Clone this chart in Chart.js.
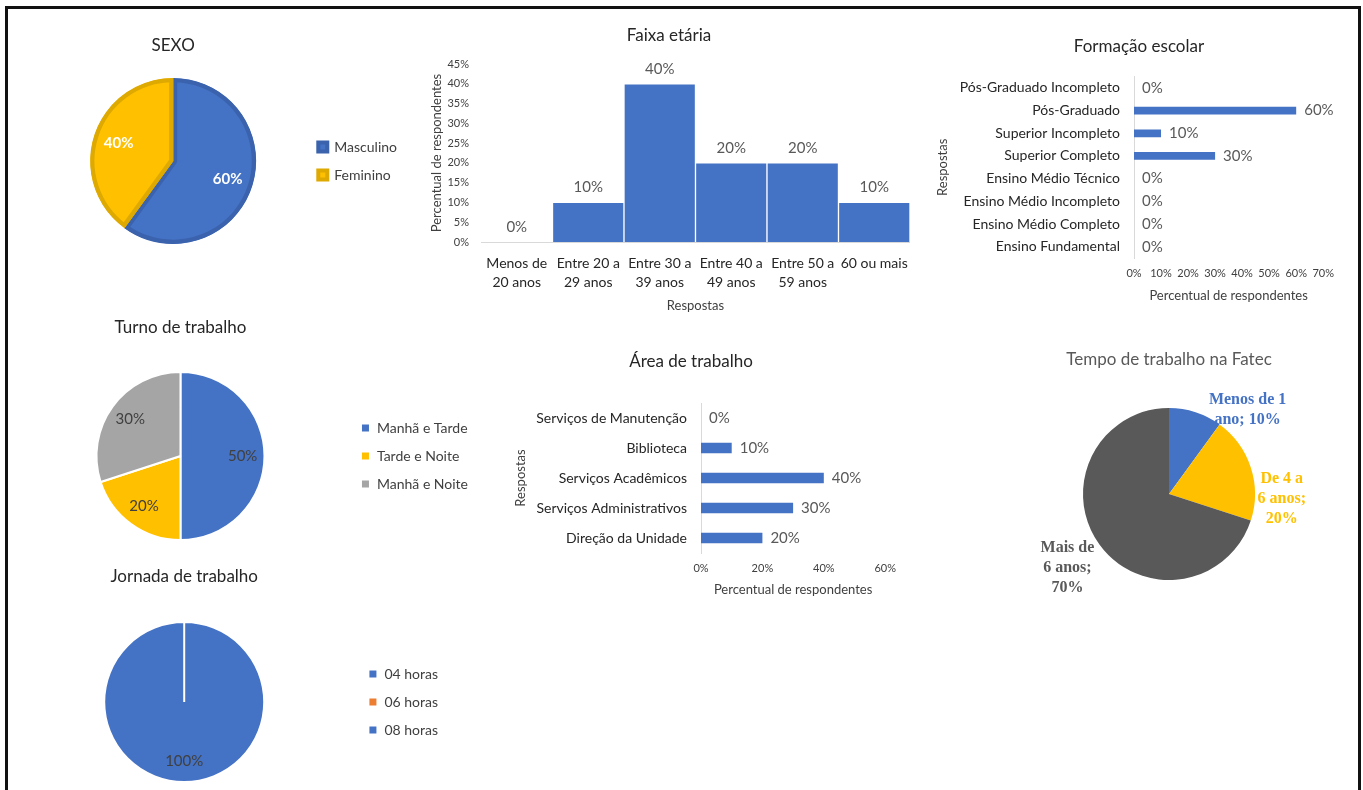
<!DOCTYPE html>
<html lang="pt-BR">
<head>
<meta charset="utf-8">
<title>Perfil dos respondentes</title>
<script src="https://cdn.jsdelivr.net/npm/chart.js@4.4.1/dist/chart.umd.min.js"></script>
<style>
  html, body { margin: 0; padding: 0; background: #fff; }
  #painel { position: relative; width: 1363px; height: 790px; overflow: hidden; }
  #moldura { position: absolute; left: 5px; top: 6px; width: 1356px; height: 820px;
             box-sizing: border-box; border: 3px solid #111; border-bottom: none; }
  canvas { position: absolute; }
</style>
</head>
<body>
<div id="painel">
  <div id="moldura"></div>
  <canvas id="sexoChart" width="365" height="236" style="left:42px;top:20px"></canvas>
  <canvas id="faixaChart" width="499" height="296" style="left:421px;top:20px"></canvas>
  <canvas id="formacaoChart" width="408" height="282" style="left:935px;top:25px"></canvas>
  <canvas id="turnoChart" width="464" height="245" style="left:14px;top:311px"></canvas>
  <canvas id="areaChart" width="428" height="261" style="left:477px;top:340px"></canvas>
  <canvas id="tempoChart" width="320" height="268" style="left:1009px;top:340px"></canvas>
  <canvas id="jornadaChart" width="434" height="222" style="left:14px;top:562px"></canvas>
</div>
<script>
// Dados de cada gráfico (percentual de respondentes)
const sexoCategorias = ['Masculino', 'Feminino'];
const sexoValores = [60, 40];

const faixaCategorias = [['Menos de', '20 anos'], ['Entre 20 a', '29 anos'], ['Entre 30 a', '39 anos'],
                         ['Entre 40 a', '49 anos'], ['Entre 50 a', '59 anos'], '60 ou mais'];
const faixaValores = [0, 10, 40, 20, 20, 10];
const faixaEixo = { max: 45, passo: 5 };

const formacaoCategorias = ['Pós-Graduado Incompleto', 'Pós-Graduado', 'Superior Incompleto', 'Superior Completo',
                            'Ensino Médio Técnico', 'Ensino Médio Incompleto', 'Ensino Médio Completo', 'Ensino Fundamental'];
const formacaoValores = [0, 60, 10, 30, 0, 0, 0, 0];
const formacaoEixo = { max: 70, passo: 10 };

const turnoCategorias = ['Manhã e Tarde', 'Tarde e Noite', 'Manhã e Noite'];
const turnoValores = [50, 20, 30];

const areaCategorias = ['Serviços de Manutenção', 'Biblioteca', 'Serviços Acadêmicos',
                        'Serviços Administrativos', 'Direção da Unidade'];
const areaValores = [0, 10, 40, 30, 20];
const areaEixo = { max: 60, passo: 20 };

const tempoCategorias = ['Menos de 1 ano', 'De 4 a 6 anos', 'Mais de 6 anos'];
const tempoValores = [10, 20, 70];

const jornadaCategorias = ['04 horas', '06 horas', '08 horas'];
const jornadaValores = [0, 0, 100];

// Cores no estilo do Excel
const AZUL = '#4472C4';
const AMARELO = '#FFC000';
const CINZA = '#A5A5A5';
const LARANJA = '#ED7D31';
const GRAFITE = '#595959';

Chart.defaults.font.family = 'Lato, "Open Sans", sans-serif';
Chart.defaults.color = '#595959';
Chart.defaults.animation = false;
Chart.defaults.responsive = false;
Chart.defaults.plugins.tooltip.enabled = false;

// quebra um rótulo em linhas que caibam na largura pedida
function quebrarTexto(ctx, texto, largura) {
    const palavras = texto.split(' ');
    const linhas = [];
    let atual = '';
    palavras.forEach(p => {
        const teste = atual ? atual + ' ' + p : p;
        if (atual && ctx.measureText(teste).width > largura) {
            linhas.push(atual);
            atual = p;
        } else {
            atual = teste;
        }
    });
    linhas.push(atual);
    return linhas;
}

// Plugin simples para os rótulos de dados (não há chartjs-plugin-datalabels)
const rotulosPlugin = {
    id: 'rotulos',
    afterDatasetsDraw(chart, args, opts) {
        if (!opts.modo) return;
        const ctx = chart.ctx;
        const meta = chart.getDatasetMeta(0);
        const ds = chart.data.datasets[0];
        ctx.save();
        ctx.font = opts.fonte;
        ctx.fillStyle = opts.cor;
        ctx.textBaseline = 'middle';
        meta.data.forEach((el, i) => {
            const v = ds.data[i];
            const txt = v + '%';
            if (opts.modo === 'topo') {
                ctx.textAlign = 'center';
                ctx.fillText(txt, el.x, el.y - opts.distancia);
            } else if (opts.modo === 'direita') {
                ctx.textAlign = 'left';
                ctx.fillText(txt, el.x + opts.distancia, el.y);
            } else if (opts.modo === 'fatia') {
                if (v === 0) return;
                const meio = (el.startAngle + el.endAngle) / 2;
                const r = el.outerRadius * opts.raio;
                ctx.textAlign = 'center';
                ctx.fillText(txt, el.x + Math.cos(meio) * r, el.y + Math.sin(meio) * r);
            } else if (opts.modo === 'externo') {
                const meio = (el.startAngle + el.endAngle) / 2;
                const bx = el.x + Math.cos(meio) * el.outerRadius + opts.deslocamentos[i][0];
                const by = el.y + Math.sin(meio) * el.outerRadius + opts.deslocamentos[i][1];
                const linhas = quebrarTexto(ctx, chart.data.labels[i] + '; ' + txt, opts.larguras[i]);
                ctx.fillStyle = ds.backgroundColor[i];
                ctx.textAlign = 'center';
                linhas.forEach((l, k) => {
                    ctx.fillText(l, bx, by + (k - (linhas.length - 1) / 2) * opts.entrelinha);
                });
            }
        });
        ctx.restore();
    }
};
Chart.register(rotulosPlugin);

// legenda à direita das pizzas
function legendaDireita() {
    return {
        position: 'right',
        fullSize: false,
        labels: { boxWidth: 9, boxHeight: 9, padding: 14, color: '#404040', font: { size: 14 } }
    };
}

function tituloPizza(texto, padTop, padBottom) {
    return {
        display: true, text: texto, fullSize: false, color: '#262626',
        font: { size: 17, weight: 'normal' }, padding: { top: padTop, bottom: padBottom }
    };
}

function crearGraficoSexo() {
    new Chart(document.getElementById('sexoChart'), {
        type: 'pie',
        data: {
            labels: sexoCategorias,
            datasets: [{
                data: sexoValores,
                backgroundColor: [AZUL, AMARELO],
                borderColor: ['#3A62AD', '#DEA900'],
                borderWidth: 4,
                borderAlign: 'inner',
                radius: 83
            }]
        },
        options: {
            plugins: {
                title: tituloPizza('SEXO', 15.8, 9.8),
                legend: legendaDireita(),
                rotulos: { modo: 'fatia', raio: 0.69, cor: '#fff', fonte: 'bold 15px Lato' }
            }
        }
    });
}

function crearGraficoTurno() {
    new Chart(document.getElementById('turnoChart'), {
        type: 'pie',
        data: {
            labels: turnoCategorias,
            datasets: [{
                data: turnoValores,
                backgroundColor: [AZUL, AMARELO, CINZA],
                borderColor: '#fff',
                borderWidth: 2,
                radius: 84
            }]
        },
        options: {
            plugins: {
                title: tituloPizza('Turno de trabalho', 6.8, 17.8),
                legend: legendaDireita(),
                rotulos: { modo: 'fatia', raio: 0.74, cor: '#404040', fonte: '15px Lato' }
            }
        }
    });
}

function crearGraficoJornada() {
    new Chart(document.getElementById('jornadaChart'), {
        type: 'pie',
        data: {
            labels: jornadaCategorias,
            datasets: [{
                data: jornadaValores,
                backgroundColor: [AZUL, LARANJA, AZUL],
                borderColor: '#fff',
                borderWidth: 2,
                radius: 80
            }]
        },
        options: {
            plugins: {
                title: tituloPizza('Jornada de trabalho', 4.8, 32.8),
                legend: legendaDireita(),
                rotulos: { modo: 'fatia', raio: 0.74, cor: '#404040', fonte: '15px Lato' }
            }
        }
    });
}

function crearGraficoTempo() {
    new Chart(document.getElementById('tempoChart'), {
        type: 'pie',
        data: {
            labels: tempoCategorias,
            datasets: [{
                data: tempoValores,
                backgroundColor: [AZUL, AMARELO, GRAFITE],
                borderWidth: 0,
                radius: 86
            }]
        },
        options: {
            plugins: {
                title: {
                    display: true, text: 'Tempo de trabalho na Fatec', color: GRAFITE,
                    font: { size: 17, weight: 'normal' }, padding: { top: 9.8, bottom: 9.8 }
                },
                legend: { display: false },
                rotulos: {
                    modo: 'externo', fonte: 'bold 16px "Liberation Serif", serif', entrelinha: 20,
                    larguras: [90, 50, 60],
                    deslocamentos: [[52, -2], [31, 31], [-32, 23]]
                }
            }
        }
    });
}

function crearGraficoFaixa() {
    new Chart(document.getElementById('faixaChart'), {
        type: 'bar',
        data: {
            labels: faixaCategorias,
            datasets: [{
                data: faixaValores,
                backgroundColor: AZUL,
                borderColor: '#fff',
                borderWidth: 1,
                barPercentage: 1,
                categoryPercentage: 1
            }]
        },
        options: {
            layout: { padding: { right: 3 } },
            plugins: {
                title: {
                    display: true, text: 'Faixa etária', color: '#262626',
                    font: { size: 17, weight: 'normal' }, padding: { top: 5.8, bottom: 17.8 }
                },
                legend: { display: false },
                rotulos: { modo: 'topo', distancia: 15, cor: GRAFITE, fonte: '15px Lato' }
            },
            scales: {
                x: {
                    grid: { display: false, drawTicks: false },
                    border: { display: true, color: '#D9D9D9' },
                    ticks: { color: '#262626', font: { size: 14, lineHeight: 1.36 }, padding: 12, maxRotation: 0, autoSkip: false },
                    title: { display: true, text: 'Respostas', color: '#404040', font: { size: 13 }, padding: { top: 0, bottom: 2 } },
                    afterFit: eixo => { eixo.height = 74; }
                },
                y: {
                    min: 0,
                    max: faixaEixo.max,
                    grid: { display: false, drawTicks: false },
                    border: { display: false },
                    ticks: { stepSize: faixaEixo.passo, color: '#404040', font: { size: 11 }, padding: 12, callback: v => v + '%' },
                    title: { display: true, text: 'Percentual de respondentes', color: '#404040', font: { size: 13 }, padding: { top: 8, bottom: 0 } },
                    afterFit: eixo => { eixo.width = 60; }
                }
            }
        }
    });
}

// barras horizontais (Formação escolar e Área de trabalho)
function crearBarrasHorizontais(id, titulo, categorias, valores, eixo, cfg) {
    new Chart(document.getElementById(id), {
        type: 'bar',
        data: {
            labels: categorias,
            datasets: [{
                data: valores,
                backgroundColor: AZUL,
                barPercentage: cfg.espessura,
                categoryPercentage: 1
            }]
        },
        options: {
            indexAxis: 'y',
            plugins: {
                title: {
                    display: true, text: titulo, color: '#262626',
                    font: { size: 17, weight: 'normal' }, padding: cfg.tituloPadding
                },
                legend: { display: false },
                rotulos: { modo: 'direita', distancia: 8, cor: GRAFITE, fonte: '15px Lato' }
            },
            scales: {
                y: {
                    grid: { display: false, drawTicks: false },
                    border: { display: true, color: '#D9D9D9' },
                    ticks: { color: '#262626', font: { size: 14 }, padding: 14, autoSkip: false },
                    title: { display: true, text: 'Respostas', color: '#404040', font: { size: 13 }, padding: { top: cfg.respostasPad, bottom: 0 } },
                    afterFit: e => { e.width = cfg.larguraEixo; }
                },
                x: {
                    min: 0,
                    max: eixo.max,
                    grid: { display: false, drawTicks: false },
                    border: { display: false },
                    ticks: { stepSize: eixo.passo, color: '#404040', font: { size: 11 }, padding: 9, callback: v => v + '%' },
                    title: { display: true, text: 'Percentual de respondentes', color: '#404040', font: { size: 13 }, padding: { top: 0, bottom: 3 } },
                    afterFit: e => { e.height = cfg.alturaEixo; }
                }
            }
        }
    });
}

document.addEventListener('DOMContentLoaded', () => {
    crearGraficoSexo();
    crearGraficoFaixa();
    crearBarrasHorizontais('formacaoChart', 'Formação escolar', formacaoCategorias, formacaoValores, formacaoEixo, {
        espessura: 0.34, tituloPadding: { top: 11.8, bottom: 19.4 },
        respostasPad: 0, larguraEixo: 199, alturaEixo: 49
    });
    crearGraficoTurno();
    crearBarrasHorizontais('areaChart', 'Área de trabalho', areaCategorias, areaValores, areaEixo, {
        espessura: 0.35, tituloPadding: { top: 11.8, bottom: 30.8 },
        respostasPad: 36, larguraEixo: 224, alturaEixo: 48
    });
    crearGraficoTempo();
    crearGraficoJornada();
});
</script>
</body>
</html>
